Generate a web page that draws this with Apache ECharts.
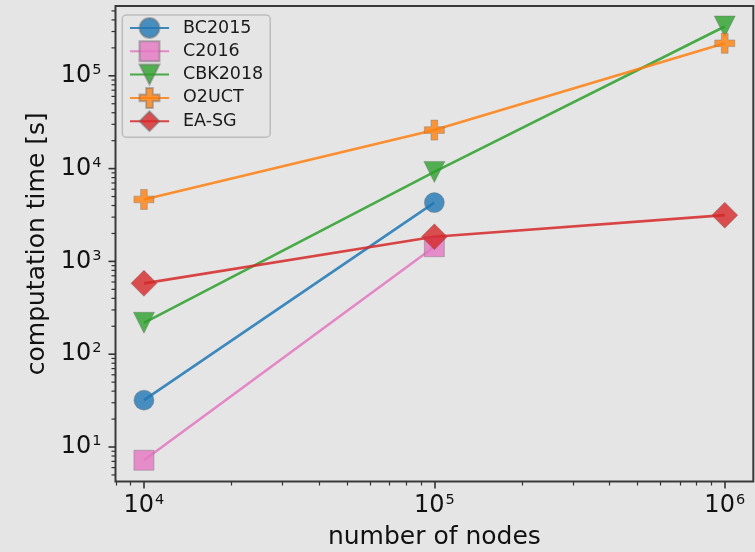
<!DOCTYPE html>
<html>
<head>
<meta charset="utf-8">
<script src="https://cdn.jsdelivr.net/npm/echarts@6/dist/echarts.min.js"></script>
<style>
html,body{margin:0;padding:0;background:#e5e5e5;}
#chart{width:755px;height:552px;}
</style>
</head>
<body>
<div id="chart"></div>
<script>
// ---- data ----
const seriesNames = ['BC2015', 'C2016', 'CBK2018', 'O2UCT', 'EA-SG'];
const xNodes = [1e4, 1e5, 1e6];
const bc2015 = [32, 4300, null];
const c2016 = [7.2, 1440, null];
const cbk2018 = [218, 9200, 340000];
const o2uct = [4650, 26000, 224000];
const easg = [580, 1840, 3150];
const xMajorTicks = [1e4, 1e5, 1e6];
const yMajorTicks = [1e1, 1e2, 1e3, 1e4, 1e5];
const xRange = [7980, 1.254e6];
const yRange = [4.25, 565000];

// minor tick values (2..9 x 10^n) inside the ranges
function minorTicks(lo, hi) {
  const out = [];
  for (let e = -1; e <= 7; e++) {
    for (let k = 2; k <= 9; k++) {
      const v = k * Math.pow(10, e);
      if (v > lo && v < hi) out.push(v);
    }
  }
  return out;
}
const xMinorTicks = minorTicks(xRange[0], xRange[1]);
const yMinorTicks = minorTicks(yRange[0], yRange[1]);

const FONT = 'DejaVu Sans';
const colors = ['#1f77b4', '#e377c2', '#2ca02c', '#ff7f0e', '#d62728'];
const symbols = [
  'circle',
  'rect',
  'path://M0,0L2,0L1,2Z',
  'path://M1,0H2V1H3V2H2V3H1V2H0V1H1Z',
  'diamond'
];
const symbolSizes = [20, 20, 21, 20, 26];
const values = [bc2015, c2016, cbk2018, o2uct, easg];

function pow10Label(v) {
  const e = Math.round(Math.log10(v));
  return '{b|10}{s|' + e + '}';
}
const richLabel = {
  b: {fontSize: 24, fontFamily: FONT, color: '#111', lineHeight: 28},
  s: {fontSize: 14.5, fontFamily: FONT, color: '#111', verticalAlign: 'top', lineHeight: 18, padding: [1, 0, 0, 1]}
};

const series = seriesNames.map((name, i) => ({
  name: name,
  type: 'line',
  data: xNodes.map((x, j) => values[i][j] == null ? null : [x, values[i][j]]).filter(d => d),
  symbol: symbols[i],
  symbolSize: symbolSizes[i],
  showAllSymbol: true,
  lineStyle: {color: colors[i], width: 2.6, opacity: 0.85},
  itemStyle: {color: colors[i], opacity: 0.8, borderColor: 'rgba(110,110,110,0.6)', borderWidth: 0.8},
  emphasis: {disabled: true},
  animation: false
}));

// y-axis tick marks placed through the axis scale (value -> pixel by api.coord)
const tickColor = '#333';
const yTickData = yMajorTicks.map(v => [xRange[0], v, 7]).concat(yMinorTicks.map(v => [xRange[0], v, 4]));
series.push({
  type: 'custom',
  name: 'yticks',
  xAxisIndex: 0, yAxisIndex: 0,
  clip: false, silent: true, z: 5,
  encode: {x: 0, y: 1},
  data: yTickData,
  renderItem: function (params, api) {
    const p = api.coord([api.value(0), api.value(1)]);
    const len = api.value(2);
    return {
      type: 'line',
      shape: {x1: p[0] - len, y1: p[1], x2: p[0], y2: p[1]},
      style: {stroke: tickColor, lineWidth: len > 5 ? 1.6 : 1.2}
    };
  },
  animation: false
});

const gridBox = {left: 115.5, right: 1.7, top: 6, bottom: 70.5, outerBoundsMode: 'none'};

const chart = echarts.init(document.getElementById('chart'), null, {renderer: 'canvas'});
chart.setOption({
  backgroundColor: '#e5e5e5',
  animation: false,
  grid: [
    Object.assign({show: true, borderColor: '#3a3a3a', borderWidth: 2, backgroundColor: 'transparent'}, gridBox),
    Object.assign({show: false}, gridBox)
  ],
  legend: {
    orient: 'vertical',
    left: 122.3, top: 15,
    itemWidth: 39, itemHeight: 25, itemGap: 1.3,
    padding: [2, 7, 5, 6.7],
    backgroundColor: 'rgba(229,229,229,0.8)',
    borderColor: '#bdbdbd', borderWidth: 1.5, borderRadius: 4,
    textStyle: {fontSize: 17.5, fontFamily: FONT, color: '#1a1a1a', padding: [0, 0, 0, 9]},
    data: seriesNames
  },
  xAxis: [
    {
      gridIndex: 0,
      type: 'log', min: xRange[0], max: xRange[1], position: 'bottom',
      axisLine: {show: false},
      axisTick: {show: true, customValues: xMajorTicks, length: 7, lineStyle: {color: tickColor, width: 1.6}},
      axisLabel: {customValues: xMajorTicks, formatter: pow10Label, rich: richLabel, margin: 10},
      splitLine: {show: false},
      name: 'number of nodes', nameLocation: 'middle', nameGap: 43,
      nameTextStyle: {fontSize: 25, fontFamily: FONT, color: '#111'}
    },
    {
      gridIndex: 1,
      type: 'log', min: xRange[0], max: xRange[1], position: 'bottom',
      axisLine: {show: false},
      axisTick: {show: true, customValues: xMinorTicks, length: 4, lineStyle: {color: tickColor, width: 1.2}},
      axisLabel: {show: false},
      splitLine: {show: false}
    }
  ],
  yAxis: [
    {
      gridIndex: 0,
      type: 'log', min: yRange[0], max: yRange[1], position: 'left',
      axisLine: {show: false},
      axisTick: {show: false},
      axisLabel: {customValues: yMajorTicks, formatter: pow10Label, rich: richLabel, margin: 14},
      splitLine: {show: false},
      name: 'computation time [s]', nameLocation: 'middle', nameGap: 64,
      nameTextStyle: {fontSize: 25, fontFamily: FONT, color: '#111'}
    },
    {
      gridIndex: 1,
      type: 'log', min: yRange[0], max: yRange[1], position: 'left',
      show: false
    }
  ],
  series: series
});
</script>
</body>
</html>
